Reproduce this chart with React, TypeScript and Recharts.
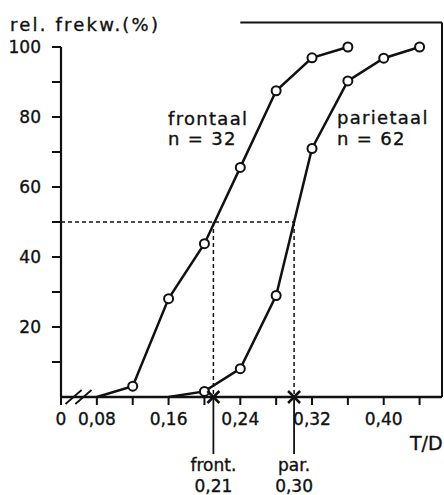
import { LineChart, Line, XAxis, YAxis, ReferenceLine, ReferenceDot } from "recharts"

// cumulative relative frequency (%) against T/D
const frontalX = [0.08, 0.12, 0.16, 0.2, 0.24, 0.28, 0.32, 0.36]
const frontalPct = [0, 3.1, 28.1, 43.8, 65.6, 87.5, 96.9, 100]
const parietalX = [0.16, 0.2, 0.24, 0.28, 0.32, 0.36, 0.4, 0.44]
const parietalPct = [0, 1.6, 8.1, 29.0, 71.0, 90.3, 96.8, 100]

const xTicks = [0.04, 0.08, 0.12, 0.16, 0.2, 0.24, 0.28, 0.32, 0.36, 0.4, 0.44]
const xTickLabels = ["0", "0,08", "", "0,16", "", "0,24", "", "0,32", "", "0,40", ""]
const yTicks = [10, 20, 30, 40, 50, 60, 70, 80, 90, 100]
const yTickLabels = ["", "20", "", "40", "", "60", "", "80", "", "100"]

const medianLevel = 50
const medians = [
  { x: 0.21, name: "front.", value: "0,21" },
  { x: 0.3, name: "par.", value: "0,30" },
]

const frontal = frontalX.map((x, i) => ({ x, y: frontalPct[i] }))
const parietal = parietalX.map((x, i) => ({ x, y: parietalPct[i] }))

const FONT = "'DejaVu Sans', sans-serif"
const INK = "#111"
// slightly heavier lettering
const textStyle = { fontFamily: FONT, fill: INK, stroke: INK, strokeWidth: 0.35 }

const XTick = ({ x, y, payload, index }: any) => (
  <text x={x} y={y} dy={15} textAnchor="middle" fontSize={17} {...textStyle}>
    {xTickLabels[index ?? payload.index]}
  </text>
)

const YTick = ({ x, y, payload, index }: any) => (
  <text x={x} y={y} dy={6} textAnchor="end" fontSize={17} {...textStyle}>
    {yTickLabels[index ?? payload.index]}
  </text>
)

// open circles, first point of each curve is left bare
const OpenDot = (props: any) => {
  const { cx, cy, index } = props
  if (index === 0) return <g key={`d${index}`} />
  return <circle key={`d${index}`} cx={cx} cy={cy} r={4.5} fill="#fff" stroke={INK} strokeWidth={2} />
}

const MedianMark = ({ cx, cy, name, value }: any) => (
  <g>
    <line x1={cx - 6} y1={cy - 6} x2={cx + 6} y2={cy + 6} stroke={INK} strokeWidth={2.5} />
    <line x1={cx - 6} y1={cy + 6} x2={cx + 6} y2={cy - 6} stroke={INK} strokeWidth={2.5} />
    <line x1={cx} y1={cy} x2={cx} y2={cy + 57} stroke={INK} strokeWidth={1.8} />
    <text x={cx} y={cy + 74} textAnchor="middle" fontSize={17} {...textStyle}>
      {name}
    </text>
    <text x={cx} y={cy + 95} textAnchor="middle" fontSize={17} {...textStyle}>
      {value}
    </text>
  </g>
)

export default function App() {
  return (
    <div style={{ position: "absolute", left: 0, top: 0, background: "#fff" }}>
      <LineChart width={444} height={495} margin={{ top: 47, right: 2, left: 0, bottom: 0 }}>
        <XAxis
          type="number"
          dataKey="x"
          domain={[0.04, 0.465]}
          ticks={xTicks}
          interval={0}
          tick={<XTick />}
          tickSize={8}
          tickMargin={5}
          height={98}
          axisLine={{ stroke: INK, strokeWidth: 2.5 }}
          tickLine={{ stroke: INK, strokeWidth: 2 }}
        />
        <YAxis
          type="number"
          domain={[0, 100]}
          ticks={yTicks}
          interval={0}
          tick={<YTick />}
          tickSize={9}
          tickMargin={11}
          width={61}
          axisLine={{ stroke: INK, strokeWidth: 2.2 }}
          tickLine={{ stroke: INK, strokeWidth: 2 }}
        />

        {/* partial frame on top and right */}
        <ReferenceLine segment={[{ x: 0.24, y: 107 }, { x: 0.465, y: 107 }]} stroke={INK} strokeWidth={2} ifOverflow="visible" />
        <ReferenceLine segment={[{ x: 0.465, y: 107 }, { x: 0.465, y: 0 }]} stroke={INK} strokeWidth={2} ifOverflow="visible" />

        {/* axis break */}
        <ReferenceLine segment={[{ x: 0.045, y: -2 }, { x: 0.063, y: 2 }]} stroke={INK} strokeWidth={1.8} ifOverflow="visible" />
        <ReferenceLine segment={[{ x: 0.056, y: -2 }, { x: 0.074, y: 2 }]} stroke={INK} strokeWidth={1.8} ifOverflow="visible" />

        {/* median read-off lines */}
        <ReferenceLine segment={[{ x: 0.04, y: medianLevel }, { x: medians[1].x, y: medianLevel }]} stroke={INK} strokeWidth={1.5} strokeDasharray="4 3" />
        {medians.map((m) => (
          <ReferenceLine key={m.name} segment={[{ x: m.x, y: medianLevel }, { x: m.x, y: 0 }]} stroke={INK} strokeWidth={1.5} strokeDasharray="4 3" />
        ))}

        <Line data={frontal} dataKey="y" stroke={INK} strokeWidth={2.5} dot={OpenDot} isAnimationActive={false} />
        <Line data={parietal} dataKey="y" stroke={INK} strokeWidth={2.5} dot={OpenDot} isAnimationActive={false} />

        {medians.map((m) => (
          <ReferenceDot
            key={`m${m.name}`}
            x={m.x}
            y={0}
            ifOverflow="visible"
            shape={(p: any) => <MedianMark cx={p.cx} cy={p.cy} name={m.name} value={m.value} />}
          />
        ))}

        <text x={10} y={31} fontSize={18} letterSpacing={2.2} {...textStyle}>rel. frekw.(%)</text>
        <text x={168} y={125} fontSize={18} letterSpacing={1.3} {...textStyle}>frontaal</text>
        <text x={168} y={145} fontSize={18} letterSpacing={1.3} {...textStyle}>n = 32</text>
        <text x={337} y={124} fontSize={18} letterSpacing={1.3} {...textStyle}>parietaal</text>
        <text x={337} y={145} fontSize={18} letterSpacing={1.3} {...textStyle}>n = 62</text>
        <text x={410} y={450} fontSize={19} {...textStyle}>T/D</text>
      </LineChart>
    </div>
  )
}
